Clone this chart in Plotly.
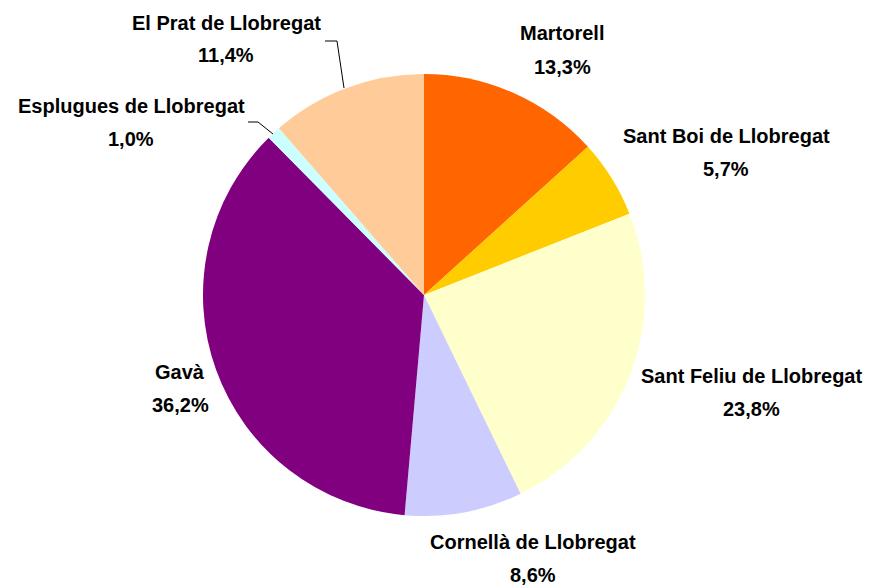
import plotly.graph_objects as go

names = ["Martorell", "Sant Boi de Llobregat", "Sant Feliu de Llobregat",
         "Cornellà de Llobregat", "Gavà", "Esplugues de Llobregat", "El Prat de Llobregat"]
values = [13.3, 5.7, 23.8, 8.6, 36.2, 1.0, 11.4]
colors = ["#FF6600", "#FFCC00", "#FFFFCC", "#CCCCFF", "#800080", "#CCFFFF", "#FFCC99"]

# page has an 8px body margin; figure is sized to fit the visible window
OFF = 8
W, H = 871 - OFF, 585 - OFF
# label block centres (window pixels) and leader lines
label_pos = {
    "Martorell": (562, 50),
    "Sant Boi de Llobregat": (726, 152),
    "Sant Feliu de Llobregat": (751, 392),
    "Cornellà de Llobregat": (533, 558),
    "Gavà": (180, 388),
    "Esplugues de Llobregat": (131, 122),
    "El Prat de Llobregat": (226, 39),
}
leaders = [
    [(325, 41), (337, 41), (344, 88)],
    [(248, 122), (258, 122), (273, 134)],
]

FONT = "Liberation Sans, Arial, sans-serif"
FS = 20

def px(x):
    return (x - OFF) / W

def py(y):
    return 1 - (y - OFF) / H

fig = go.Figure(go.Pie(
    labels=names, values=values, sort=False, direction="clockwise", rotation=0,
    marker=dict(colors=colors, line=dict(width=0)),
    textinfo="none", hoverinfo="label+percent", showlegend=False,
    domain=dict(x=[px(203), px(645)], y=[py(516), py(74)]),
))

ann = []
for n, v in zip(names, values):
    cx, cy = label_pos[n]
    pct = f"{v:.1f}".replace(".", ",") + "%"
    for txt, dy in ((n, -16.5), (pct, 16.5)):
        ann.append(dict(x=px(cx), y=py(cy + dy), xref="paper", yref="paper",
                        text=f"<b>{txt}</b>", showarrow=False,
                        xanchor="center", yanchor="middle",
                        font=dict(family=FONT, size=FS, color="#000000")))

shapes = []
for pts in leaders:
    path = "M " + " L ".join(f"{px(x)} {py(y)}" for x, y in pts)
    shapes.append(dict(type="path", path=path, xref="paper", yref="paper",
                       line=dict(color="#000000", width=1)))

fig.update_layout(width=W, height=H, autosize=False,
                  margin=dict(l=0, r=0, t=0, b=0),
                  paper_bgcolor="white", plot_bgcolor="white",
                  annotations=ann, shapes=shapes)
fig.write_html("out.html")
